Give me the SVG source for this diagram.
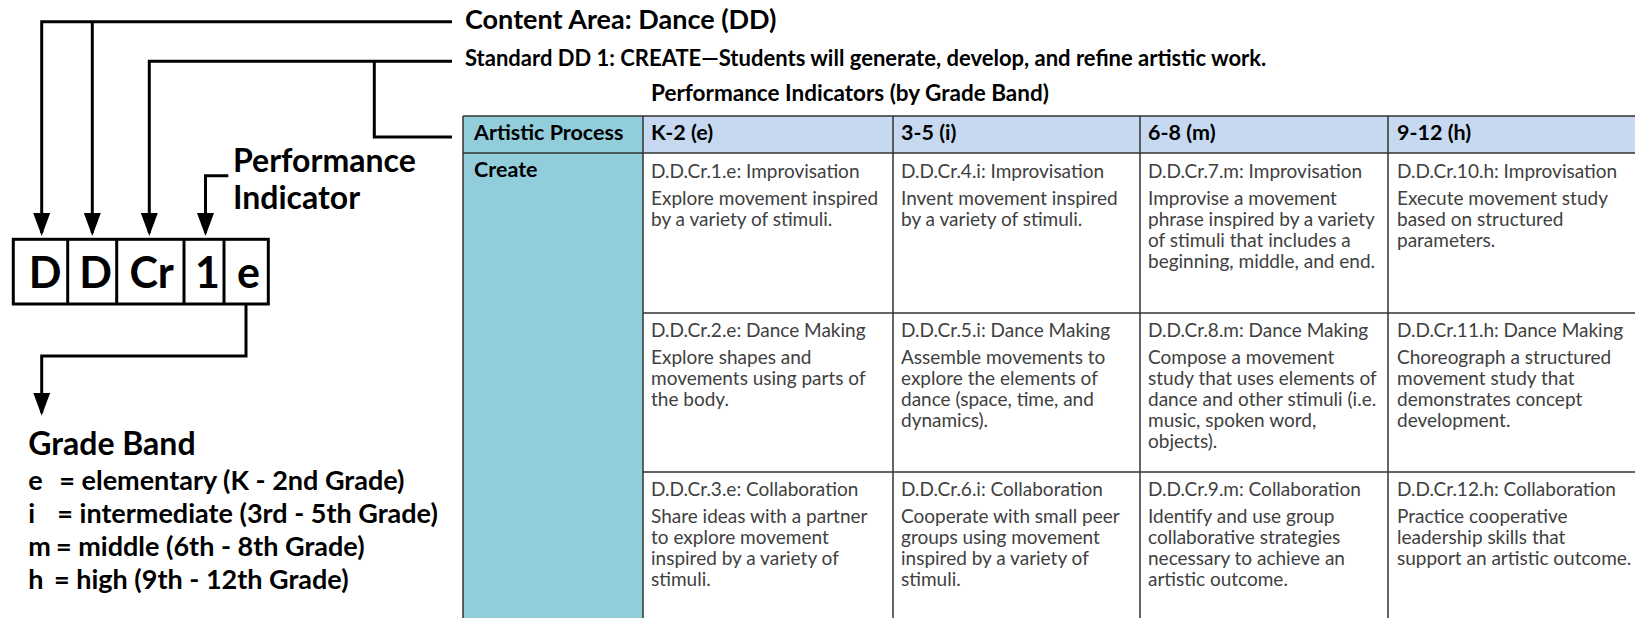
<svg xmlns="http://www.w3.org/2000/svg" width="1635" height="618" viewBox="0 0 1635 618">
<defs>
<marker id="arr" viewBox="0 0 23 17" refX="20" refY="8.5" markerWidth="23" markerHeight="17" markerUnits="userSpaceOnUse" orient="auto">
<path d="M0,0 L23,8.5 L0,17 z" fill="#000"/>
</marker>
<style>
.conn{fill:none;stroke:#000;stroke-width:3;}
.arrow{marker-end:url(#arr);}
.box{fill:#fff;stroke:#000;stroke-width:3;}
.code{font-family:Lato,"Liberation Sans",sans-serif;font-weight:700;font-size:43px;fill:#000;text-anchor:middle;}
.lbl{font-family:Lato,"Liberation Sans",sans-serif;font-weight:700;fill:#000;}
.title{font-size:27px;}
.std{font-size:22px;}
.pi{font-size:22.5px;}
.big{font-size:32px;}
.gb{font-size:32px;}
.gl{font-size:27px;}
.th{font-family:Lato,"Liberation Sans",sans-serif;font-weight:700;font-size:21.5px;fill:#000;}
.td{font-family:Lato,"Liberation Sans",sans-serif;font-size:19px;fill:#404040;}
.grid{stroke:#333;stroke-width:1.5;fill:none;}
</style>
</defs>
<rect width="1635" height="618" fill="#fff"/>

<g id="connectors">
<path class="conn arrow" d="M452,21.7 H41.7 V233"/>
<path class="conn arrow" d="M92.3,21.7 V233"/>
<path class="conn arrow" d="M452,61.3 H149.3 V233"/>
<path class="conn" d="M374.3,61.3 V137 H452"/>
<path class="conn arrow" d="M228.3,175.7 H205.5 V233"/>
<path class="conn arrow" d="M246,304 V356 H41.7 V412.7"/>
</g>

<g id="code-box">
<rect class="box" x="13.3" y="239.3" width="255" height="64.7"/>
<line class="conn" x1="67.7" y1="239.3" x2="67.7" y2="304"/>
<line class="conn" x1="116.7" y1="239.3" x2="116.7" y2="304"/>
<line class="conn" x1="184" y1="239.3" x2="184" y2="304"/>
<line class="conn" x1="224" y1="239.3" x2="224" y2="304"/>
<text class="code" x="45" y="288.3">D</text>
<text class="code" x="95.5" y="288.3">D</text>
<text class="code" x="151.7" y="288.3">Cr</text>
<text class="code" x="207.5" y="288.3">1</text>
<text class="code" x="248.5" y="288.3">e</text>
</g>

<g id="performance-indicator-label">
<text class="lbl big" x="233" y="171.7">Performance</text>
<text class="lbl big" x="233" y="209.3">Indicator</text>
</g>

<g id="content-area">
<text class="lbl title" x="465" y="29">Content Area: Dance (DD)</text>
</g>
<g id="standard">
<text class="lbl std" x="465" y="66">Standard DD 1: CREATE—Students will generate, develop, and refine artistic work.</text>
</g>

<g id="grade-band">
<text class="lbl gb" x="28.3" y="455">Grade Band</text>
<text class="lbl gl" x="28.3" y="490">e</text><text class="lbl gl" x="59.3" y="490">= elementary (K - 2nd Grade)</text>
<text class="lbl gl" x="28.3" y="522.7">i</text><text class="lbl gl" x="57.3" y="522.7">= intermediate (3rd - 5th Grade)</text>
<text class="lbl gl" x="28.3" y="556">m</text><text class="lbl gl" x="56" y="556">= middle (6th - 8th Grade)</text>
<text class="lbl gl" x="28.3" y="589.3">h</text><text class="lbl gl" x="54" y="589.3">= high (9th - 12th Grade)</text>
</g>

<g id="table">
<text class="lbl pi" x="651" y="101">Performance Indicators (by Grade Band)</text>
<rect x="463" y="116" width="180" height="510" fill="#92CDDC"/>
<rect x="643" y="116" width="1000" height="37" fill="#C6D9F1"/>
<g class="grid">
<line x1="463" y1="116" x2="1640" y2="116"/>
<line x1="463" y1="153" x2="1640" y2="153"/>
<line x1="643" y1="313" x2="1640" y2="313"/>
<line x1="643" y1="472" x2="1640" y2="472"/>
<line x1="463" y1="116" x2="463" y2="620"/>
<line x1="643" y1="116" x2="643" y2="620"/>
<line x1="893" y1="116" x2="893" y2="620"/>
<line x1="1140" y1="116" x2="1140" y2="620"/>
<line x1="1388" y1="116" x2="1388" y2="620"/>
</g>
<g id="header-row">
<text class="th" x="474" y="140">Artistic Process</text>
<text class="th" x="651" y="140">K-2 (e)</text>
<text class="th" x="901" y="140">3-5 (i)</text>
<text class="th" x="1148" y="140">6-8 (m)</text>
<text class="th" x="1397" y="140">9-12 (h)</text>
</g>
<g id="create"><text class="th" x="474" y="177">Create</text></g>

<g id="cr1"><text class="td" x="651" y="178">D.D.Cr.1.e: Improvisation</text><text class="td" x="651" y="205">Explore movement inspired</text><text class="td" x="651" y="226">by a variety of stimuli.</text></g>
<g id="cr4"><text class="td" x="901" y="178">D.D.Cr.4.i: Improvisation</text><text class="td" x="901" y="205">Invent movement inspired</text><text class="td" x="901" y="226">by a variety of stimuli.</text></g>
<g id="cr7"><text class="td" x="1148" y="178">D.D.Cr.7.m: Improvisation</text><text class="td" x="1148" y="205">Improvise a movement</text><text class="td" x="1148" y="226">phrase inspired by a variety</text><text class="td" x="1148" y="247">of stimuli that includes a</text><text class="td" x="1148" y="268">beginning, middle, and end.</text></g>
<g id="cr10"><text class="td" x="1397" y="178">D.D.Cr.10.h: Improvisation</text><text class="td" x="1397" y="205">Execute movement study</text><text class="td" x="1397" y="226">based on structured</text><text class="td" x="1397" y="247">parameters.</text></g>

<g id="cr2"><text class="td" x="651" y="337">D.D.Cr.2.e: Dance Making</text><text class="td" x="651" y="364">Explore shapes and</text><text class="td" x="651" y="385">movements using parts of</text><text class="td" x="651" y="406">the body.</text></g>
<g id="cr5"><text class="td" x="901" y="337">D.D.Cr.5.i: Dance Making</text><text class="td" x="901" y="364">Assemble movements to</text><text class="td" x="901" y="385">explore the elements of</text><text class="td" x="901" y="406">dance (space, time, and</text><text class="td" x="901" y="427">dynamics).</text></g>
<g id="cr8"><text class="td" x="1148" y="337">D.D.Cr.8.m: Dance Making</text><text class="td" x="1148" y="364">Compose a movement</text><text class="td" x="1148" y="385">study that uses elements of</text><text class="td" x="1148" y="406">dance and other stimuli (i.e.</text><text class="td" x="1148" y="427">music, spoken word,</text><text class="td" x="1148" y="448">objects).</text></g>
<g id="cr11"><text class="td" x="1397" y="337">D.D.Cr.11.h: Dance Making</text><text class="td" x="1397" y="364">Choreograph a structured</text><text class="td" x="1397" y="385">movement study that</text><text class="td" x="1397" y="406">demonstrates concept</text><text class="td" x="1397" y="427">development.</text></g>

<g id="cr3"><text class="td" x="651" y="496">D.D.Cr.3.e: Collaboration</text><text class="td" x="651" y="523">Share ideas with a partner</text><text class="td" x="651" y="544">to explore movement</text><text class="td" x="651" y="565">inspired by a variety of</text><text class="td" x="651" y="586">stimuli.</text></g>
<g id="cr6"><text class="td" x="901" y="496">D.D.Cr.6.i: Collaboration</text><text class="td" x="901" y="523">Cooperate with small peer</text><text class="td" x="901" y="544">groups using movement</text><text class="td" x="901" y="565">inspired by a variety of</text><text class="td" x="901" y="586">stimuli.</text></g>
<g id="cr9"><text class="td" x="1148" y="496">D.D.Cr.9.m: Collaboration</text><text class="td" x="1148" y="523">Identify and use group</text><text class="td" x="1148" y="544">collaborative strategies</text><text class="td" x="1148" y="565">necessary to achieve an</text><text class="td" x="1148" y="586">artistic outcome.</text></g>
<g id="cr12"><text class="td" x="1397" y="496">D.D.Cr.12.h: Collaboration</text><text class="td" x="1397" y="523">Practice cooperative</text><text class="td" x="1397" y="544">leadership skills that</text><text class="td" x="1397" y="565">support an artistic outcome.</text></g>
</g>
</svg>
